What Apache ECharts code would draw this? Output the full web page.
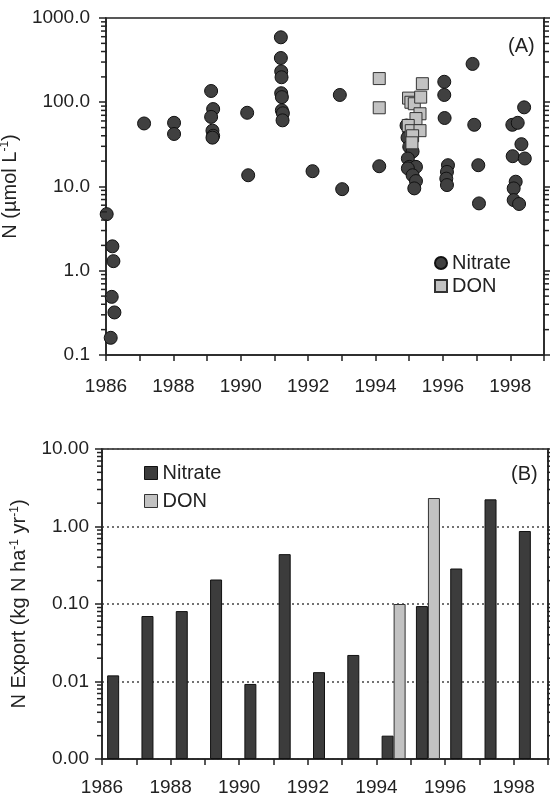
<!DOCTYPE html>
<html>
<head>
<meta charset="utf-8">
<script src="https://cdn.jsdelivr.net/npm/echarts@6/dist/echarts.min.js"></script>
<style>
html,body{margin:0;padding:0;background:#fff;}
#chart{width:550px;height:794px;}
</style>
</head>
<body>
<div id="chart"></div>
<script>
// ---------- Panel A: concentrations ----------
const nitrateYears = [1986.02,1986.19,1986.22,1986.17,1986.25,1986.14,1987.13,1988.02,1988.02,
  1989.12,1989.18,1989.12,1989.16,1989.18,1989.16,1990.19,1990.22,
  1991.19,1991.19,1991.20,1991.21,1991.20,1991.22,1991.22,1991.25,1991.24,
  1992.13,1992.94,1993.01,1994.11,
  1994.92,1995.00,1994.95,1995.00,1995.10,1994.96,1995.00,1995.20,1994.96,1995.10,1995.20,1995.15,
  1996.04,1996.04,1996.05,1996.15,1996.12,1996.10,1996.12,
  1996.88,1996.93,1997.05,1997.07,
  1998.06,1998.22,1998.41,1998.33,1998.07,1998.43,1998.16,1998.10,1998.10,1998.26];
const nitrateConc = [4.7,1.95,1.3,0.49,0.32,0.16,56,57,42,
  136,83,67,46,40,38,75,13.6,
  590,335,232,198,128,115,80,74,61,
  15.2,122,9.3,17.4,
  53,45,38,29.6,26,21.5,17.1,17.1,16.4,13.6,11.6,9.5,
  175,122,65,17.9,14.9,12.4,10.4,
  285,54,17.9,6.3,
  54,57,87,31.8,22.9,21.5,11.4,9.5,6.9,6.2];
const donYears = [1994.11,1994.11,1994.98,1995.05,1995.15,1995.39,1995.34,1995.32,1995.20,1994.97,1995.06,1995.32,1995.10,1995.08];
const donConc  = [191,86,112,100,96,166,115,73,64,53,46,46,40,33];
const topYTicks = [0.1, 1, 10, 100, 1000];
const topXRange = [1986, 1999];

// ---------- Panel B: export ----------
const exportYears = ['1986','1987','1988','1989','1990','1991','1992','1993','1994','1995','1996','1997','1998'];
const nitrateExport = [0.012,0.070,0.081,0.207,0.0093,0.44,0.0132,0.022,0.002,0.094,0.287,2.24,0.875];
const donExport = [null,null,null,null,null,null,null,null,0.100,2.33,null,null,null];
const bottomYTicks = [0.001, 0.01, 0.1, 1, 10];
const bottomXRange = [1986, 1999];

const FONT = 'Liberation Sans, Arial, sans-serif';
const INK = '#222';

const chart = echarts.init(document.getElementById('chart'), null, {renderer: 'canvas'});

const axisLineStyle = {color: INK, width: 1.5};
const labelStyle = {fontFamily: FONT, fontSize: 19, color: INK};
const supRich = {sup: {fontFamily: FONT, fontSize: 12, color: INK, verticalAlign: 'top', lineHeight: 12}};

const option = {
  backgroundColor: '#fff',
  animation: false,
  textStyle: {fontFamily: FONT},
  title: [
    {text: '(A)', left: 503, top: 31, textStyle: {fontFamily: FONT, fontSize: 20, fontWeight: 'normal', color: INK}},
    {text: '(B)', left: 506, top: 459, textStyle: {fontFamily: FONT, fontSize: 20, fontWeight: 'normal', color: INK}}
  ],
  legend: [
    {orient: 'vertical', left: 429, top: 248, itemWidth: 12, itemHeight: 12, itemGap: 3, selectedMode: false,
      textStyle: {fontFamily: FONT, fontSize: 20, color: INK},
      data: [{name: 'Nitrate', icon: 'circle'}, {name: 'DON', icon: 'rect'}]},
    {orient: 'vertical', left: 139, top: 458, itemWidth: 13, itemHeight: 13, itemGap: 8, selectedMode: false,
      textStyle: {fontFamily: FONT, fontSize: 20, color: INK},
      data: [{name: 'Nitrate', icon: 'rect', itemStyle: {color: '#3c3c3c', borderColor: '#111', borderWidth: 1}},
             {name: 'DON', icon: 'rect', itemStyle: {color: '#c2c2c2', borderColor: '#333', borderWidth: 1}}]}
  ],
  grid: [
    {left: 106, top: 18, width: 438, height: 337, show: true, borderColor: INK, borderWidth: 1.5,
      backgroundColor: 'transparent', containLabel: false, outerBoundsMode: 'none'},
    {left: 102, top: 449, width: 446, height: 310, show: true, borderColor: INK, borderWidth: 1.5,
      backgroundColor: 'transparent', containLabel: false, outerBoundsMode: 'none'}
  ],
  xAxis: [
    {type: 'value', gridIndex: 0, min: topXRange[0], max: topXRange[1], interval: 1,
      axisLine: {lineStyle: axisLineStyle}, axisTick: {inside: false, length: 6, lineStyle: {color: INK, width: 1.5}},
      splitLine: {show: false},
      axisLabel: Object.assign({margin: 22, formatter: v => (v % 2 === 0 && v < topXRange[1]) ? String(v) : ''}, labelStyle)},
    {type: 'category', gridIndex: 1, data: exportYears, show: false, position: 'bottom'},
    {type: 'value', gridIndex: 1, min: bottomXRange[0], max: bottomXRange[1], interval: 1, position: 'bottom',
      axisLine: {lineStyle: axisLineStyle}, axisTick: {inside: false, length: 6, lineStyle: {color: INK, width: 1.5}},
      splitLine: {show: false},
      axisLabel: Object.assign({margin: 19, formatter: v => (v % 2 === 0 && v < bottomXRange[1]) ? String(v) : ''}, labelStyle)}
  ],
  yAxis: [
    {type: 'log', logBase: 10, gridIndex: 0, min: topYTicks[0], max: topYTicks[topYTicks.length - 1], position: 'left',
      axisLine: {show: true, lineStyle: axisLineStyle}, axisTick: {show: true, inside: false, length: 7, lineStyle: {color: INK, width: 1.5}},
      splitLine: {show: false},
      axisLabel: Object.assign({margin: 16, formatter: v => Number(v).toFixed(1)}, labelStyle),
      name: 'N (µmol L{sup|-1})', nameLocation: 'middle', nameRotate: 90, nameGap: 72,
      nameTextStyle: {fontFamily: FONT, fontSize: 20, color: INK, lineHeight: 22, rich: supRich}},
    {type: 'log', logBase: 10, gridIndex: 0, min: topYTicks[0], max: topYTicks[topYTicks.length - 1], position: 'right',
      axisLine: {show: true, lineStyle: axisLineStyle}, axisTick: {show: true, inside: false, length: 6, lineStyle: {color: INK, width: 1.5}},
      splitLine: {show: false}, axisLabel: {show: false}},
    {type: 'log', logBase: 10, gridIndex: 1, min: bottomYTicks[0], max: bottomYTicks[bottomYTicks.length - 1], position: 'left',
      startValue: bottomYTicks[0],
      axisLine: {show: true, lineStyle: axisLineStyle}, axisTick: {show: true, inside: false, length: 7, lineStyle: {color: INK, width: 1.5}},
      splitLine: {show: true, lineStyle: {color: '#444', width: 1.5, type: [2, 3]}},
      axisLabel: Object.assign({margin: 13, formatter: v => Number(v).toFixed(2)}, labelStyle),
      name: 'N Export (kg N ha{sup|-1} yr{sup|-1})', nameLocation: 'middle', nameRotate: 90, nameGap: 48,
      nameTextStyle: {fontFamily: FONT, fontSize: 20, color: INK, lineHeight: 22, rich: supRich}},
    {type: 'log', logBase: 10, gridIndex: 1, min: bottomYTicks[0], max: bottomYTicks[bottomYTicks.length - 1], position: 'right',
      axisLine: {show: true, lineStyle: axisLineStyle}, axisTick: {show: true, inside: false, length: 6, lineStyle: {color: INK, width: 1.5}},
      splitLine: {show: false}, axisLabel: {show: false}}
  ],
  series: [
    {name: 'Nitrate', type: 'scatter', xAxisIndex: 0, yAxisIndex: 0, symbol: 'circle', symbolSize: 13,
      itemStyle: {color: '#404040', borderColor: '#111', borderWidth: 1, opacity: 1},
      data: nitrateYears.map((y, i) => [y, nitrateConc[i]])},
    {name: 'DON', type: 'scatter', xAxisIndex: 0, yAxisIndex: 0, symbol: 'rect', symbolSize: 12,
      itemStyle: {color: '#c2c2c2', borderColor: '#333', borderWidth: 1, opacity: 1},
      data: donYears.map((y, i) => [y, donConc[i]])},
    {name: 'Nitrate', type: 'bar', xAxisIndex: 1, yAxisIndex: 2, barWidth: 12, barGap: '0%',
      itemStyle: {color: '#3c3c3c', borderColor: '#111', borderWidth: 1},
      data: nitrateExport},
    {name: 'DON', type: 'bar', xAxisIndex: 1, yAxisIndex: 2, barWidth: 12, barGap: '0%',
      itemStyle: {color: '#c2c2c2', borderColor: '#333', borderWidth: 1},
      data: donExport}
  ]
};
chart.setOption(option);

// Log-scale minor ticks (2..9 within each decade) on both sides of each panel,
// positioned through the chart's own axis conversion.
function minorTicks(xIdx, yIdx, xr, decades) {
  const els = [];
  decades.forEach(function (base) {
    for (let k = 2; k <= 9; k++) {
      const pl = chart.convertToPixel({xAxisIndex: xIdx, yAxisIndex: yIdx}, [xr[0], base * k]);
      const pr = chart.convertToPixel({xAxisIndex: xIdx, yAxisIndex: yIdx}, [xr[1], base * k]);
      if (!pl || !pr) continue;
      els.push({type: 'line', silent: true, z: 100,
        shape: {x1: pl[0] - 5, y1: pl[1], x2: pl[0] + 1, y2: pl[1]}, style: {stroke: INK, lineWidth: 1.5}});
      els.push({type: 'line', silent: true, z: 100,
        shape: {x1: pr[0] - 1, y1: pr[1], x2: pr[0] + 5, y2: pr[1]}, style: {stroke: INK, lineWidth: 1.5}});
    }
  });
  return els;
}
const minorEls = minorTicks(0, 0, topXRange, topYTicks.slice(0, -1))
  .concat(minorTicks(2, 2, bottomXRange, bottomYTicks.slice(0, -1)));
chart.setOption({graphic: minorEls});
</script>
</body>
</html>
